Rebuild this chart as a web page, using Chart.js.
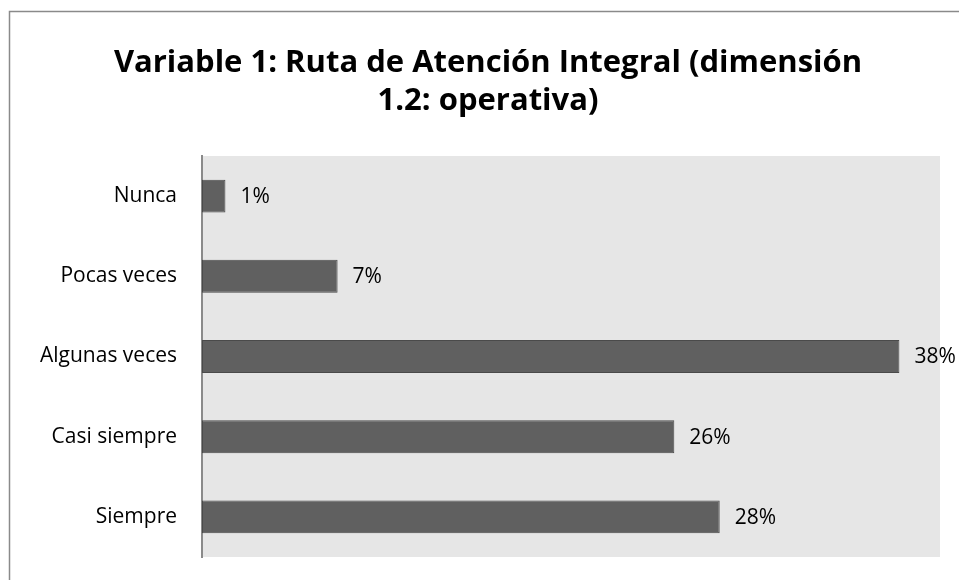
<!DOCTYPE html>
<html>
<head>
<meta charset="utf-8">
<script src="https://cdn.jsdelivr.net/npm/chart.js@4"></script>
<style>
html,body{margin:0;padding:0;background:#fff;}
#wrap{position:relative;width:959px;height:580px;}
</style>
</head>
<body>
<div id="wrap"><canvas id="c" width="959" height="580"></canvas></div>
<script>
const categories = ["Nunca", "Pocas veces", "Algunas veces", "Casi siempre", "Siempre"];
const values = [1.27, 7.35, 37.8, 25.6, 28.06];
const valueLabels = ["1%", "7%", "38%", "26%", "28%"];
const titleLines = ["Variable 1: Ruta de Atención Integral (dimensión", "1.2: operativa)"];
const axisMax = 40;

const FONT = "'Open Sans', Lato, sans-serif";

const frame = {
  id: 'frame',
  beforeDraw(chart) {
    const ctx = chart.ctx, a = chart.chartArea;
    ctx.save();
    ctx.fillStyle = '#ffffff';
    ctx.fillRect(0, 0, chart.width, chart.height);
    ctx.strokeStyle = '#8a8a8a';
    ctx.lineWidth = 1.5;
    ctx.strokeRect(9.5, 11.5, chart.width + 20, chart.height + 20);
    ctx.fillStyle = '#e6e6e6';
    ctx.fillRect(a.left, a.top, a.right - a.left, a.bottom - a.top);
    ctx.restore();
  }
};

const valueText = {
  id: 'valueText',
  afterDatasetsDraw(chart) {
    const ctx = chart.ctx;
    const meta = chart.getDatasetMeta(0);
    ctx.save();
    ctx.font = "21px " + FONT;
    ctx.fillStyle = '#000';
    ctx.textAlign = 'left';
    ctx.textBaseline = 'middle';
    meta.data.forEach((bar, i) => {
      ctx.fillText(valueLabels[i], bar.x + 15, bar.y + 1);
    });
    ctx.restore();
  }
};

new Chart(document.getElementById('c'), {
  type: 'bar',
  data: {
    labels: categories,
    datasets: [{
      data: values,
      backgroundColor: '#606060',
      borderColor: '#4a4a4a',
      borderWidth: 1,
      borderSkipped: false,
      barPercentage: 0.41,
      categoryPercentage: 1
    }]
  },
  options: {
    indexAxis: 'y',
    responsive: false,
    animation: false,
    layout: { padding: { left: 36, right: 19, top: 0, bottom: 23 } },
    plugins: {
      legend: { display: false },
      tooltip: { enabled: false },
      title: {
        display: true,
        text: titleLines,
        color: '#000',
        font: { family: FONT, size: 31, weight: 'bold', lineHeight: 1.2 },
        padding: { top: 45, bottom: 36.6 }
      }
    },
    scales: {
      x: { display: false, min: 0, max: axisMax },
      y: {
        grid: { display: false, drawTicks: false },
        border: { display: true, color: '#8a8a8a', width: 2 },
        ticks: { color: '#000', font: { family: FONT, size: 21 }, padding: 25 },
        afterFit(scale) {
          scale.width = 166;
          scale.paddingTop = 0;
          scale.paddingBottom = 0;
        }
      }
    }
  },
  plugins: [frame, valueText]
});
</script>
</body>
</html>
